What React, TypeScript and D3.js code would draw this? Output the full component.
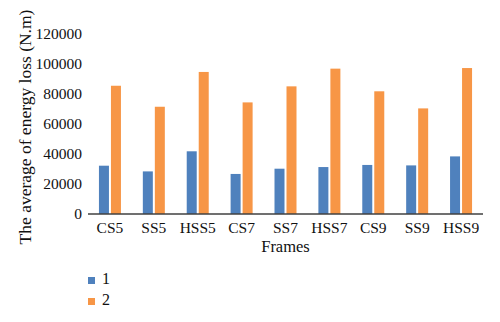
import React from "react";
import * as d3 from "d3";

const categories = ["CS5", "SS5", "HSS5", "CS7", "SS7", "HSS7", "CS9", "SS9", "HSS9"];
const series1 = [32200, 28400, 41800, 26700, 30200, 31300, 32700, 32400, 38400];
const series2 = [85500, 71500, 94700, 74400, 85100, 96900, 81800, 70400, 97300];
const seriesNames = ["1", "2"];
const yTicks = [0, 20000, 40000, 60000, 80000, 100000, 120000];
const colors = ["#4F81BD", "#F79646"];

export default function App() {
  const W = 500, H = 322;
  const left = 88, right = 483, top = 34, bottom = 214;
  const x = d3.scaleBand<string>().domain(categories).range([left, right]);
  const y = d3.scaleLinear().domain([0, 120000]).range([bottom, top]);
  const barW = 10, gap = 2;
  const font = "'Liberation Serif', 'Times New Roman', serif";
  const all = [series1, series2];
  return (
    <svg width={W} height={H} style={{ position: "absolute", left: 0, top: 0, background: "#fff" }} fontFamily={font}>
      {yTicks.map((t) => (
        <text key={t} x={left - 6} y={y(t)} dy="0.35em" textAnchor="end" fontSize={15.5} fill="#111">{t}</text>
      ))}
      {categories.map((c, i) => {
        const cx = (x(c) as number) + x.bandwidth() / 2;
        return (
          <g key={c}>
            {all.map((s, k) => (
              <rect key={k} x={k === 0 ? cx - gap / 2 - barW : cx + gap / 2} y={y(s[i])} width={barW} height={bottom - y(s[i])} fill={colors[k]} />
            ))}
            <text x={cx} y={bottom + 19} textAnchor="middle" fontSize={15.5} fill="#111">{c}</text>
          </g>
        );
      })}
      <line x1={left} x2={right} y1={bottom} y2={bottom} stroke="#404040" strokeWidth={1.3} />
      <text x={(left + right) / 2} y={bottom + 38} textAnchor="middle" fontSize={16.5} fill="#111">Frames</text>
      <text transform={`translate(${30.5},${127}) rotate(-90)`} textAnchor="middle" fontSize={17.5} fill="#111">The average of energy loss (N.m)</text>
      {seriesNames.map((n, k) => (
        <g key={n}>
          <rect x={88} y={277 + k * 21} width={7} height={7} fill={colors[k]} />
          <text x={102} y={284 + k * 21} fontSize={16} fill="#111">{n}</text>
        </g>
      ))}
    </svg>
  );
}
